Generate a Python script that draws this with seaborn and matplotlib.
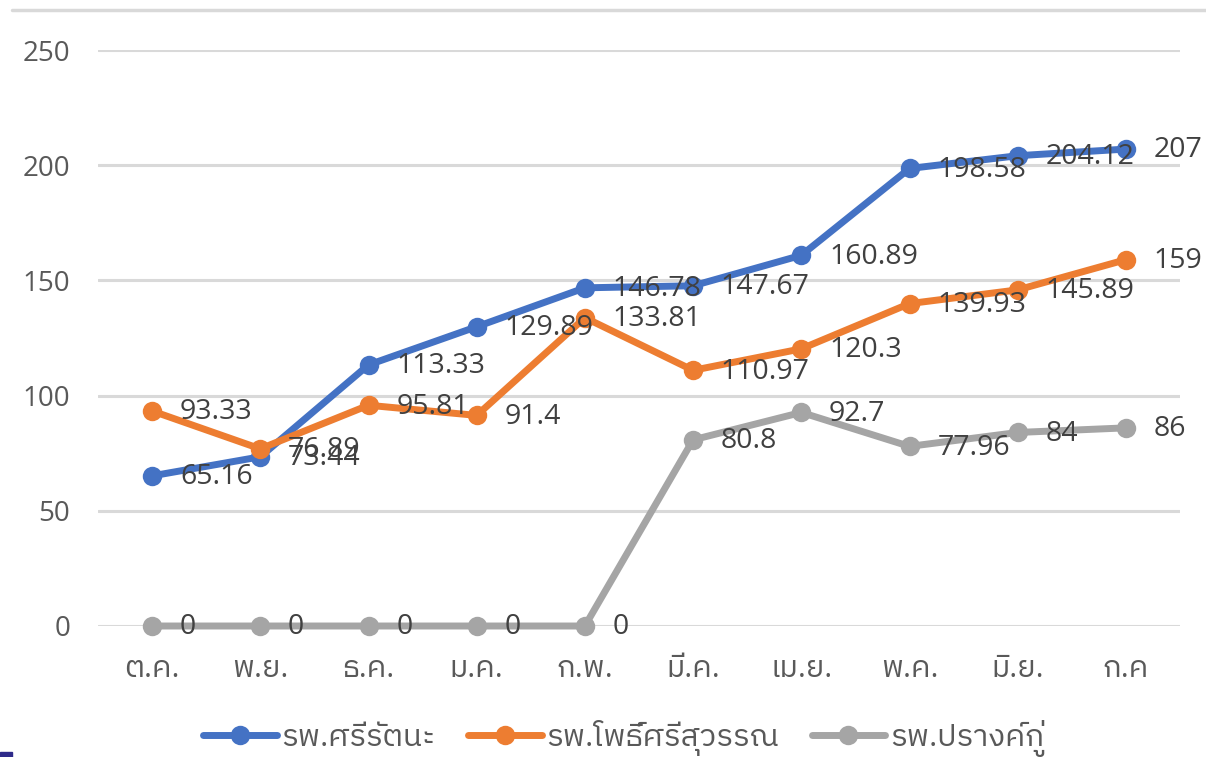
import matplotlib
matplotlib.use("Agg")
import matplotlib.pyplot as plt
from matplotlib import font_manager
from matplotlib.lines import Line2D
from matplotlib.patches import Rectangle
import seaborn as sns
import pandas as pd
from fontTools.ttLib import TTFont

months = ['ต.ค.', 'พ.ย.', 'ธ.ค.', 'ม.ค.', 'ก.พ.', 'มี.ค.', 'เม.ย.', 'พ.ค.', 'มิ.ย.', 'ก.ค']
hospitals = ['รพ.ศรีรัตนะ', 'รพ.โพธิ์ศรีสุวรรณ', 'รพ.ปรางค์กู่']
sri_rattana = [65.16, 73.44, 113.33, 129.89, 146.78, 147.67, 160.89, 198.58, 204.12, 207]
pho_si = [93.33, 76.89, 95.81, 91.4, 133.81, 110.97, 120.3, 139.93, 145.89, 159]
prang_ku = [0, 0, 0, 0, 0, 80.8, 92.7, 77.96, 84, 86]
colors = ['#4472C4', '#ED7D31', '#A5A5A5']


# find installed fonts that have Thai glyphs, prefer a loopless one
def find_thai_font():
    found = []
    for f in font_manager.fontManager.ttflist:
        try:
            tt = TTFont(f.fname, fontNumber=0, lazy=True)
            cmap = tt.getBestCmap() or {}
            if 0x0E01 in cmap and 0x0E34 in cmap:
                found.append(f.name)
        except Exception:
            continue
    if not found:
        return None
    for name in found:
        if 'Thai' in name and 'Looped' not in name:
            return name
    return found[0]


sns.set_theme(style='white')
thai = find_thai_font()
fams = ['Open Sans']
if thai:
    fams.append(thai)
fams.append('DejaVu Sans')
plt.rcParams['font.family'] = fams

txt = '#595959'

df = pd.DataFrame({
    'month': months * 3,
    'hospital': sum([[h] * len(months) for h in hospitals], []),
    'value': sri_rattana + pho_si + prang_ku,
})

fig = plt.figure(figsize=(12.06, 7.57), dpi=100)
ax = fig.add_axes([98 / 1206, 131 / 757, (1180 - 98) / 1206, 576 / 757])

sns.lineplot(data=df, x='month', y='value', hue='hospital', hue_order=hospitals,
             palette=colors, marker='o', markersize=14, markeredgewidth=0,
             linewidth=5, sort=False, ax=ax, legend=False, zorder=3)
for ln in ax.lines:
    ln.set_clip_on(False)

ax.set_xlim(-0.5, len(months) - 0.5)
ax.set_ylim(0, 250)
ax.set_yticks(range(0, 251, 50))
ax.grid(axis='y', color='#D9D9D9', linewidth=2.2, zorder=0)
ax.grid(axis='x', visible=False)
ax.set_axisbelow(True)
for s in ax.spines.values():
    s.set_visible(False)
ax.set_xlabel('')
ax.set_ylabel('')
ax.tick_params(axis='y', length=0, labelsize=20, colors=txt, pad=20)
ax.tick_params(axis='x', length=0, labelsize=22, colors=txt, pad=20)

for vals in [sri_rattana, pho_si, prang_ku]:
    for i, v in enumerate(vals):
        ax.annotate(f'{v:g}', xy=(i, v), xytext=(20, -1), textcoords='offset points',
                    ha='left', va='center', fontsize=20.5, color='#404040', zorder=5)

handles = [Line2D([0], [0], color=c, linewidth=5, marker='o', markersize=14,
                  markeredgewidth=0) for c in colors]
fig.legend(handles, hospitals, loc='center', bbox_to_anchor=(0.517, 0.024), ncol=3,
           frameon=False, fontsize=22.5, labelcolor=txt, handlelength=2.35,
           handletextpad=0.15, columnspacing=1.05)

# top border line and small corner mark from the slide
fig.add_artist(Line2D([12 / 1206, 1], [1 - 10 / 757, 1 - 10 / 757], color='#D9D9D9',
                      linewidth=2.5, transform=fig.transFigure))
fig.add_artist(Rectangle((0, 0), 12 / 1206, 5 / 757, color='#2E2A8A',
                         transform=fig.transFigure))

fig.savefig('out.png', dpi=100)
